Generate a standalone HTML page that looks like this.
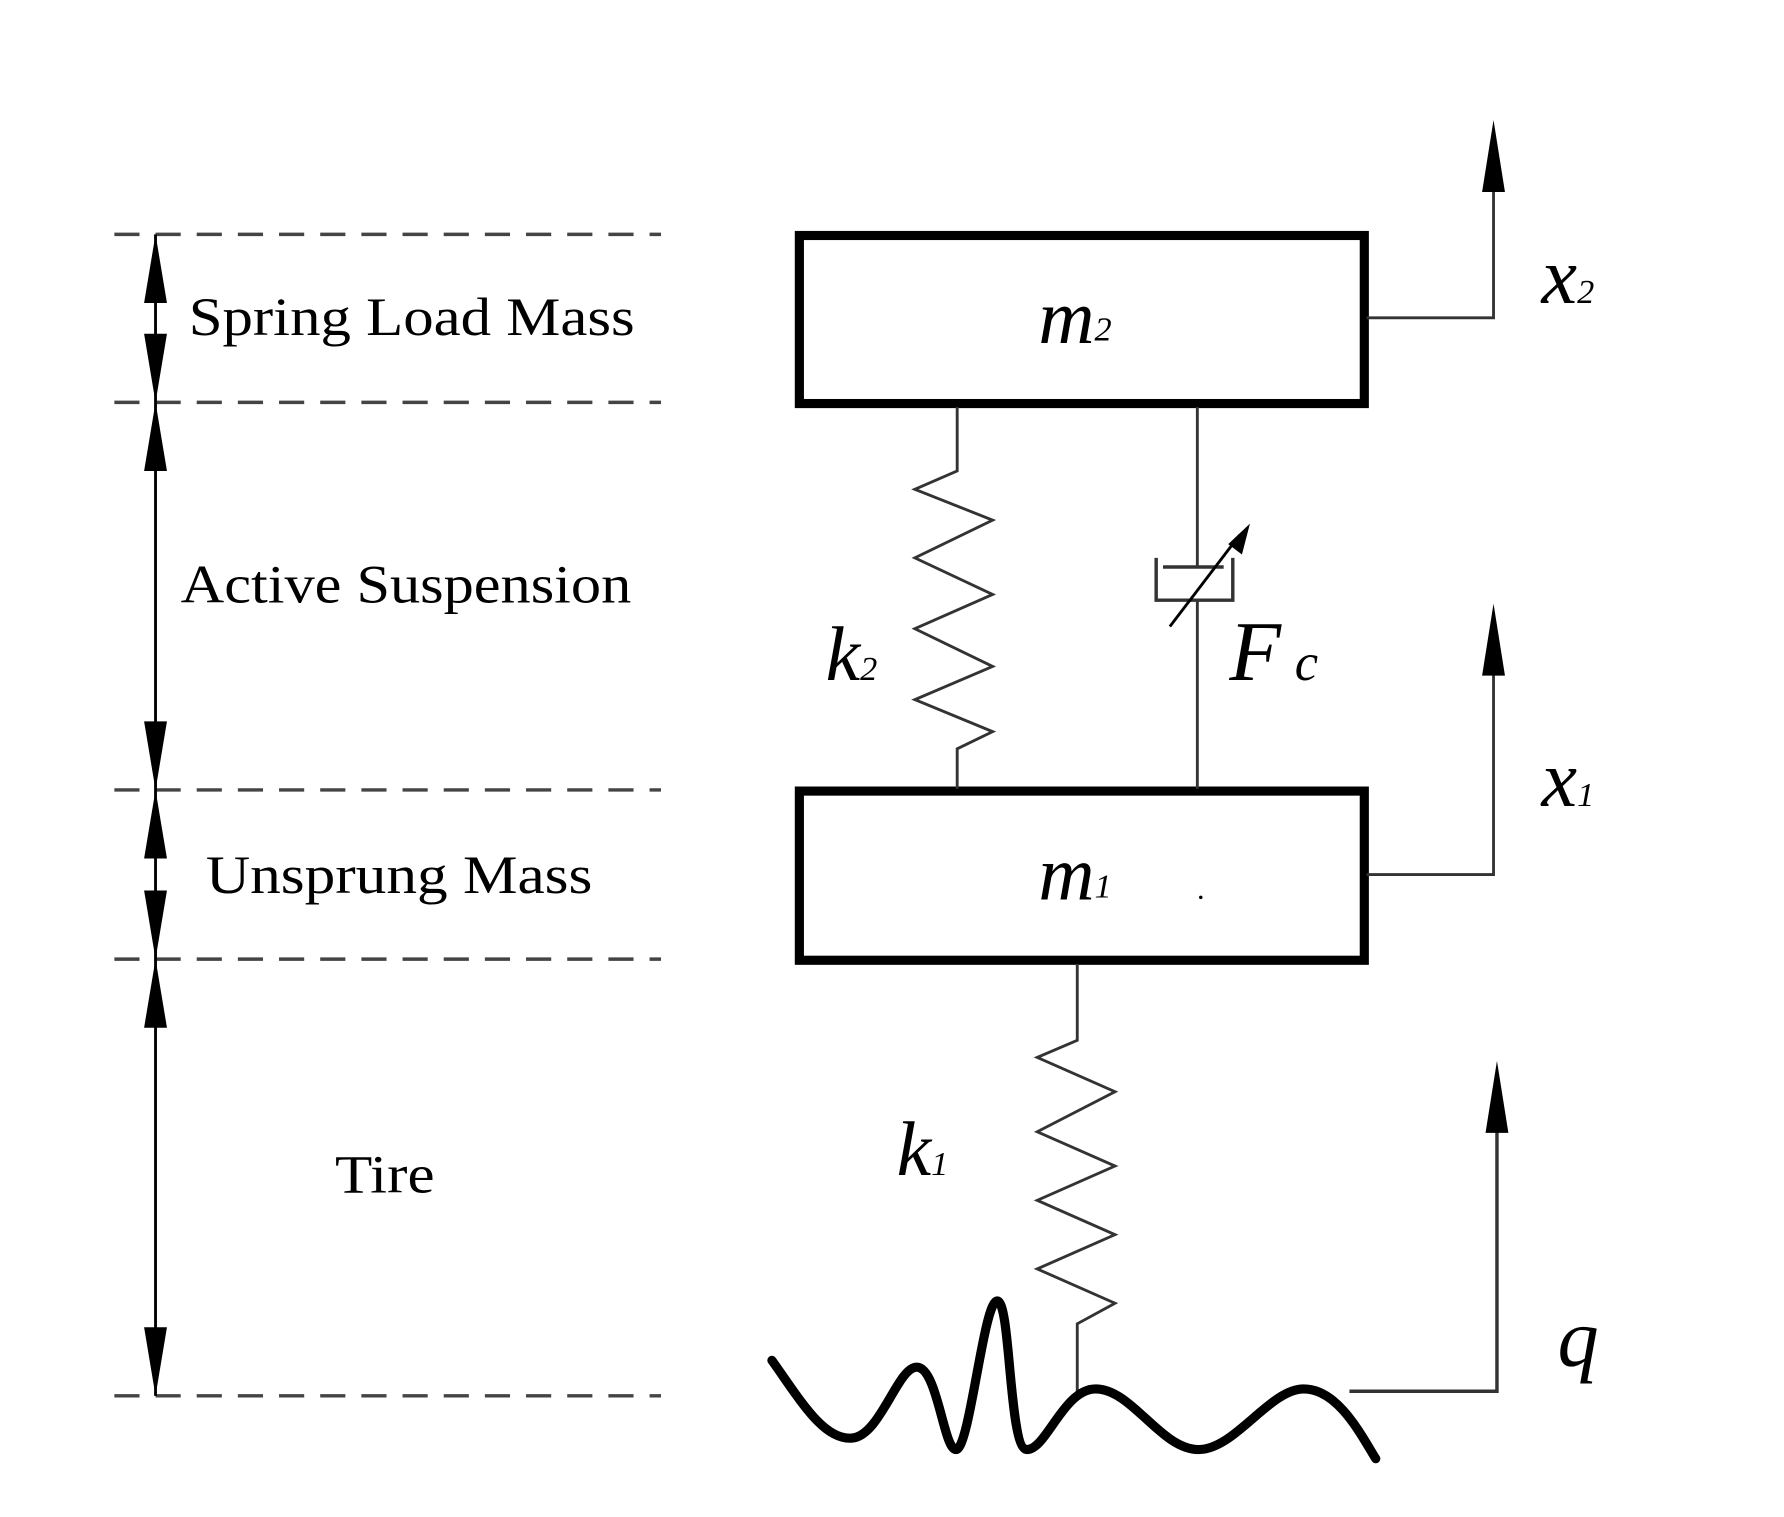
<!DOCTYPE html>
<html><head><style>html,body{margin:0;padding:0;background:#fff}svg{display:block}</style></head>
<body>
<svg width="1784" height="1517" viewBox="0 0 1560 1327" preserveAspectRatio="none" xmlns="http://www.w3.org/2000/svg">
<g stroke="#444" stroke-width="3" stroke-dasharray="22,14" fill="none">
<line x1="100" y1="205" x2="578" y2="205"/>
<line x1="100" y1="352" x2="578" y2="352"/>
<line x1="100" y1="691" x2="578" y2="691"/>
<line x1="100" y1="839" x2="578" y2="839"/>
<line x1="100" y1="1221" x2="578" y2="1221"/>
</g>
<line x1="136" y1="205" x2="136" y2="1221" stroke="#000" stroke-width="2.5"/>
<g fill="#000">
<polygon points="136,205 126,265 146,265"/>
<polygon points="136,352 126,292 146,292"/>
<polygon points="136,352 126,412 146,412"/>
<polygon points="136,691 126,631 146,631"/>
<polygon points="136,691 126,751 146,751"/>
<polygon points="136,839 126,779 146,779"/>
<polygon points="136,839 126,899 146,899"/>
<polygon points="136,1221 126,1161 146,1161"/>
</g>
<g font-family="'Liberation Serif',serif" font-size="47" fill="#000" lengthAdjust="spacingAndGlyphs">
<text x="165" y="293" textLength="390" lengthAdjust="spacingAndGlyphs">Spring Load Mass</text>
<text x="158" y="527" textLength="394" lengthAdjust="spacingAndGlyphs">Active Suspension</text>
<text x="180" y="781" textLength="338" lengthAdjust="spacingAndGlyphs">Unsprung Mass</text>
<text x="293" y="1043" textLength="87" lengthAdjust="spacingAndGlyphs">Tire</text>
</g>
<rect x="699" y="206" width="494" height="147" fill="none" stroke="#000" stroke-width="8"/>
<rect x="699" y="692" width="494" height="148" fill="none" stroke="#000" stroke-width="8"/>
<g stroke="#333" stroke-width="2.5" fill="none">
<polyline points="837,356 837,412 800,428 868,455 800,488 868,520 800,550 868,583 800,612 868,640 837,655 837,690"/>
<polyline points="942,843 942,910 907,925 975,955 907,990 975,1020 907,1050 975,1080 907,1110 975,1140 942,1158 942,1218"/>
<line x1="1047" y1="356" x2="1047" y2="496"/>
<line x1="1047" y1="525" x2="1047" y2="690"/>
<polyline points="1011,488 1011,525 1078,525 1078,488" stroke-width="3"/>
<line x1="1017" y1="496" x2="1070" y2="496" stroke-width="3"/>
<line x1="1023" y1="548" x2="1084" y2="468" stroke="#000"/>
<polyline points="1195,278 1306,278 1306,160"/>
<polyline points="1195,765 1306,765 1306,585"/>
<polyline points="1180,1217 1309,1217 1309,985" stroke-width="3"/>
</g>
<g fill="#000">
<polygon points="1093,458 1074,476 1086,485"/>
<polygon points="1306,105 1296,168 1316,168"/>
<polygon points="1306,528 1296,591 1316,591"/>
<polygon points="1309,928 1299,991 1319,991"/>
<circle cx="1050" cy="785" r="1.5"/>
</g>
<path d="M675,1190 C700,1225 720,1260 745,1258 C770,1256 785,1195 802,1196 C820,1197 825,1268 836,1268 C848,1268 860,1138 872,1138 C884,1138 882,1268 898,1268 C915,1268 930,1215 958,1215 C990,1215 1015,1268 1048,1268 C1080,1268 1110,1215 1140,1215 C1170,1215 1190,1255 1203,1276" fill="none" stroke="#000" stroke-width="8" stroke-linecap="round"/>
<g font-family="'Liberation Serif',serif" font-style="italic" fill="#000">
<text x="908" y="300" font-size="68">m<tspan font-size="30" dy="-2">2</tspan></text>
<text x="908" y="787" font-size="68">m<tspan font-size="30" dy="-2">1</tspan></text>
<text x="722" y="595" font-size="68">k<tspan font-size="30">2</tspan></text>
<text x="784" y="1028" font-size="68">k<tspan font-size="30">1</tspan></text>
<text x="1075" y="595" font-size="74">F<tspan font-size="46" dx="12">c</tspan></text>
<text x="1348" y="265" font-size="70">x<tspan font-size="30">2</tspan></text>
<text x="1348" y="705" font-size="70">x<tspan font-size="30">1</tspan></text>
<text x="1362" y="1195" font-size="72">q</text>
</g>
</svg>
</body></html>
